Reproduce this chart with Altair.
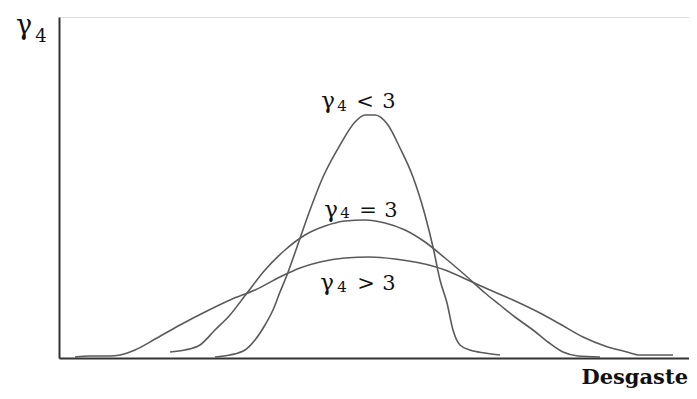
import altair as alt
import pandas as pd

# Curve γ4 < 3 (tall, narrow)
a_x = [156, 171, 186, 196, 206, 214, 221, 228, 238, 251, 264, 281, 296, 306, 316, 329, 341, 354, 366, 374, 381, 388, 394, 401, 411, 426, 441]
a_y = [1, 3, 8, 18, 33, 48, 66, 83, 111, 148, 181, 213, 236, 243, 243, 233, 210, 181, 143, 111, 78, 55, 28, 13, 8, 5, 3]

# Curve γ4 = 3 (medium)
b_x = [111, 126, 141, 156, 171, 188, 206, 226, 246, 266, 286, 306, 326, 346, 366, 386, 406, 426, 441, 456, 474, 489, 504, 519, 541]
b_y = [6, 8, 13, 28, 43, 65, 88, 108, 123, 132, 137, 138, 135, 128, 116, 100, 83, 65, 53, 41, 28, 16, 6, 2, 1]

# Curve γ4 > 3 (wide, flat)
c_x = [16, 31, 51, 61, 76, 98, 121, 146, 171, 196, 221, 241, 261, 286, 311, 336, 361, 386, 411, 431, 454, 481, 501, 524, 546, 568, 581, 596, 614]
c_y = [1, 2, 2, 3, 8, 20, 33, 46, 58, 68, 81, 90, 96, 100, 101, 99, 95, 88, 77, 68, 58, 45, 34, 21, 12, 6, 3, 3, 3]

# Annotation glyphs (γ, subscript 4, relation, 3) placed in data units
glyph_text = ["γ", "4", "<", "3",
              "γ", "4", "=", "3",
              "γ", "4", ">", "3",
              "γ", "4"]
glyph_x = [269, 283, 306, 330,
           272, 286, 309, 332,
           268, 283, 307, 330,
           -35, -18]
glyph_y = [250, 247, 250, 250,
           141, 140, 141, 141,
           68, 66, 68, 68,
           324, 316]
glyph_size = [23, 15, 21, 21,
              23, 15, 21, 21,
              23, 15, 21, 21,
              27, 18]

rows = []
for name, xs_, ys_ in [("lt", a_x, a_y), ("eq", b_x, b_y), ("gt", c_x, c_y)]:
    for i, (x, y) in enumerate(zip(xs_, ys_)):
        rows.append({"curve": name, "x": x, "y": y, "order": i})
curves = pd.DataFrame(rows)
glyphs = pd.DataFrame({"t": glyph_text, "x": glyph_x, "y": glyph_y, "s": glyph_size})

xs = alt.Scale(domain=[0, 630], nice=False, zero=False)
ys = alt.Scale(domain=[0, 341], nice=False, zero=False)

ax = alt.Axis(title=None, labels=False, ticks=False, grid=False,
              domainColor="#333333", domainWidth=2)

lines = alt.Chart(curves).mark_line(
    color="#5a5a5a", strokeWidth=1.6, interpolate="monotone", clip=False
).encode(
    x=alt.X("x:Q", scale=xs, axis=ax),
    y=alt.Y("y:Q", scale=ys, axis=ax),
    detail="curve:N",
    order="order:Q",
)

texts = alt.Chart(glyphs).mark_text(
    font="DejaVu Serif", color="#111111",
    align="center", baseline="alphabetic"
).encode(
    x=alt.X("x:Q", scale=xs),
    y=alt.Y("y:Q", scale=ys),
    text="t:N",
    size=alt.Size("s:Q", scale=None, legend=None),
)

title_x = alt.Chart(pd.DataFrame({"t": ["Desgaste"]})).mark_text(
    font="DejaVu Serif", fontSize=21, fontWeight="bold", color="#111111",
    align="right", baseline="alphabetic"
).encode(x=alt.value(629), y=alt.value(367), text="t:N")

chart = alt.layer(lines, texts, title_x).properties(
    width=630, height=341,
    autosize=alt.AutoSizeParams(type="none"),
    padding={"left": 51, "top": 9, "right": 0, "bottom": 32},
).configure_view(stroke=None).configure(background="white")

chart.save("out.html", embed_options={"renderer": "svg", "actions": False})
